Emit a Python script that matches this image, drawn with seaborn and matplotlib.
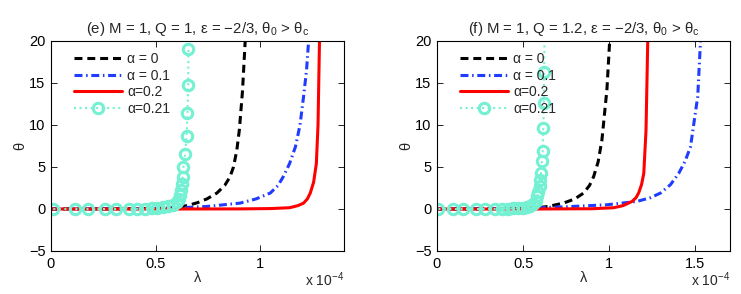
import numpy as np
import matplotlib
matplotlib.use('Agg')
import matplotlib.pyplot as plt
import seaborn as sns
from matplotlib.ticker import FuncFormatter

sns.set_style('ticks')
plt.rcParams['font.family'] = ['Liberation Sans', 'DejaVu Sans']
plt.rcParams['mathtext.fontset'] = 'custom'
plt.rcParams['mathtext.rm'] = 'Liberation Sans'
plt.rcParams['mathtext.it'] = 'Liberation Sans:italic'

# panel (e): M = 1, Q = 1   (lambda in units of 1e-4)
e_lam_a0 = [0, 0.3, 0.5, 0.58, 0.63, 0.665, 0.70, 0.745, 0.793, 0.83, 0.855, 0.872, 0.888, 0.90, 0.915, 0.928]
e_th_a0 = [0, 0.02, 0.07, 0.15, 0.3, 0.5, 0.75, 1.2, 1.9, 2.8, 3.8, 5.0, 7.0, 9.4, 14.0, 20]
e_lam_a1 = [0, 0.5, 0.6, 0.745, 0.904, 0.98, 1.048, 1.085, 1.11, 1.14, 1.168, 1.19, 1.207, 1.221, 1.231]
e_th_a1 = [0, 0.05, 0.12, 0.3, 0.7, 1.2, 1.9, 2.8, 3.85, 5.4, 7.4, 10.0, 13.4, 16.5, 20]
e_lam_a2 = [0, 0.6, 0.9, 1.05, 1.14, 1.18, 1.207, 1.225, 1.239, 1.255, 1.268, 1.276, 1.283]
e_th_a2 = [0, 0, 0.01, 0.05, 0.15, 0.4, 0.7, 1.2, 1.9, 3.2, 5.4, 10, 20]
e_lam_a21 = [0.011, 0.115, 0.178, 0.258, 0.311, 0.375, 0.41, 0.45, 0.482, 0.506, 0.537, 0.561,
             0.585, 0.600, 0.610, 0.617, 0.622, 0.626, 0.629, 0.633, 0.641, 0.648, 0.652, 0.656, 0.657]
e_th_a21 = [0, 0, 0, 0, 0, 0.01, 0.02, 0.04, 0.07, 0.12, 0.2, 0.3,
            0.5, 0.8, 1.2, 1.7, 2.3, 3.0, 3.85, 5.0, 6.6, 8.7, 11.4, 14.8, 19.0]

# panel (f): M = 1, Q = 1.2
f_lam_a0 = [0, 0.3, 0.5, 0.58, 0.645, 0.734, 0.80, 0.851, 0.885, 0.909, 0.935, 0.957, 0.986, 1.002]
f_th_a0 = [0, 0.02, 0.08, 0.15, 0.3, 0.7, 1.2, 1.9, 2.8, 3.85, 5.6, 8.2, 14.2, 20]
f_lam_a1 = [0, 0.5, 0.733, 0.986, 1.16, 1.24, 1.297, 1.355, 1.403, 1.44, 1.471, 1.513, 1.529]
f_th_a1 = [0, 0.08, 0.25, 0.5, 0.9, 1.35, 1.9, 2.9, 4.25, 5.7, 7.4, 13.4, 20]
f_lam_a2 = [0, 0.6, 0.9, 1.025, 1.08, 1.132, 1.155, 1.17, 1.187, 1.2, 1.213, 1.223]
f_th_a2 = [0, 0, 0.03, 0.15, 0.4, 0.9, 1.35, 1.9, 2.9, 4.25, 9.4, 20]
f_lam_a21 = [0.008, 0.095, 0.153, 0.227, 0.279, 0.337, 0.376, 0.415, 0.444, 0.473, 0.502, 0.521,
             0.54, 0.56, 0.572, 0.582, 0.589, 0.595, 0.599, 0.604, 0.609, 0.613, 0.617, 0.620, 0.622, 0.624]
f_th_a21 = [0, 0, 0, 0, 0, 0.01, 0.02, 0.04, 0.07, 0.1, 0.15, 0.2,
            0.3, 0.6, 1.0, 1.5, 2.0, 2.7, 3.4, 4.25, 5.75, 6.9, 9.7, 12.6, 16.3, 21.5]

labels = ['α = 0', 'α = 0.1', 'α=0.2', 'α=0.21']
titles = ['(e) M = 1, Q = 1, ε = −2/3, θ$_\\mathrm{0}$ > θ$_\\mathrm{c}$',
          '(f) M = 1, Q = 1.2, ε = −2/3, θ$_\\mathrm{0}$ > θ$_\\mathrm{c}$']
xmax = [1.4, 1.7]
xticks = [[0, 0.5, 1], [0, 0.5, 1, 1.5]]

panels = [
    [(e_lam_a0, e_th_a0), (e_lam_a1, e_th_a1), (e_lam_a2, e_th_a2), (e_lam_a21, e_th_a21)],
    [(f_lam_a0, f_th_a0), (f_lam_a1, f_th_a1), (f_lam_a2, f_th_a2), (f_lam_a21, f_th_a21)],
]

cyan = '#74f0d2'
styles = [
    dict(color='k', lw=2.2, linestyle=(0, (2.6, 1.6))),
    dict(color='#1f3cff', lw=2.2, linestyle=(0, (2.6, 1.2, 0.5, 1.2))),
    dict(color='#ff0000', lw=2.2, linestyle='-'),
    dict(color=cyan, lw=1.5, linestyle=':', marker='o', ms=7.5, mew=2.2, mfc='none', mec=cyan),
]

fig = plt.figure(figsize=(7.41, 2.94), dpi=100)
fmt = FuncFormatter(lambda v, _: f'{v:g}'.replace('-', '\u2212'))

for i, series in enumerate(panels):
    ax = fig.add_axes([0.0688 + i * 0.5209, 0.1463, 0.3954, 0.7143])
    for (lam, th), st, lab in zip(series, styles, labels):
        sns.lineplot(x=np.array(lam), y=np.array(th), ax=ax, sort=False, estimator=None,
                     label=lab, **st)
    ax.set_xlim(0, xmax[i])
    ax.set_ylim(-5, 20)
    ax.set_xticks(xticks[i])
    ax.set_yticks([-5, 0, 5, 10, 15, 20])
    ax.xaxis.set_major_formatter(fmt)
    ax.yaxis.set_major_formatter(fmt)
    ax.tick_params(direction='in', top=True, right=True, length=4, width=0.6,
                   labelsize=10.5, pad=4, colors='k')
    for s in ax.spines.values():
        s.set_linewidth(0.8)
        s.set_color('k')
    ax.set_title(titles[i], fontsize=10.8, pad=6)
    ax.set_xlabel('λ', fontsize=10.5, labelpad=0)
    ax.set_ylabel('θ', fontsize=10.5, labelpad=1)
    ax.text(1.0, -0.18, 'x 10$^{\\mathrm{-4}}$', transform=ax.transAxes,
            ha='right', va='bottom', fontsize=10)
    ax.legend(loc='upper left', bbox_to_anchor=(0.045, 0.995), frameon=False,
              handlelength=3.5, fontsize=10, labelspacing=0.2, handletextpad=0.35,
              borderaxespad=0.3)

fig.savefig('out.png', dpi=100)
